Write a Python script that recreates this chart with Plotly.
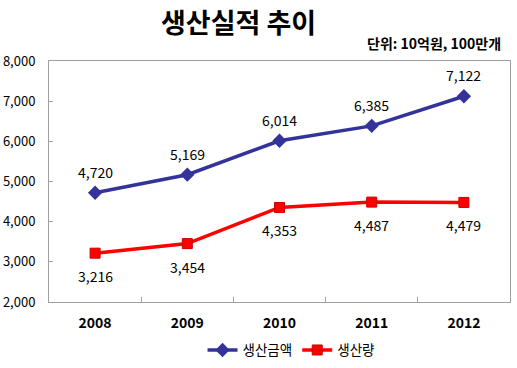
import plotly.graph_objects as go

years = ["2008", "2009", "2010", "2011", "2012"]
amount = [4720, 5169, 6014, 6385, 7122]
volume = [3216, 3454, 4353, 4487, 4479]
y_ticks = [2000, 3000, 4000, 5000, 6000, 7000, 8000]

font = "Malgun Gothic, Noto Sans CJK KR, sans-serif"

fig = go.Figure()
fig.add_trace(go.Scatter(
    x=years, y=amount, name="생산금액", mode="lines+markers",
    line=dict(color="#333399", width=3.5),
    marker=dict(symbol="diamond", size=11, color="#333399"),
))
fig.add_trace(go.Scatter(
    x=years, y=volume, name="생산량", mode="lines+markers",
    line=dict(color="#FF0000", width=3.5),
    marker=dict(symbol="square", size=10, color="#FF0000", line=dict(color="#CC0000", width=1)),
))

labels = []
for ys, shift in ((amount, 21), (volume, -23)):
    for i, yv in enumerate(ys):
        labels.append(dict(x=i, y=yv, xref="x", yref="y", text=f"{yv:,}", showarrow=False,
                           yshift=shift, font=dict(size=14, color="black")))

fig.update_layout(
    width=517, height=368,
    margin=dict(l=49, r=7, t=61, b=66, autoexpand=False),
    paper_bgcolor="white", plot_bgcolor="white",
    font=dict(family=font, color="black"),
    showlegend=True,
    legend=dict(orientation="h", x=0.525, xanchor="center", y=-0.2, yanchor="middle",
                font=dict(size=13.5), itemwidth=30, tracegroupgap=0),
    annotations=labels + [
        dict(text="<b>생산실적 추이</b>", x=0.41, y=1.165, xref="paper", yref="paper",
             yanchor="middle", showarrow=False, font=dict(size=27)),
        dict(text="<b>단위: 10억원, 100만개</b>", x=0.985, y=1.075, xref="paper", yref="paper",
             xanchor="right", yanchor="middle", showarrow=False, font=dict(size=14)),
    ],
)

fig.update_xaxes(
    type="category", range=[-0.5, 4.5],
    showline=True, linecolor="#A0A0A0", linewidth=1, mirror=True,
    showgrid=False, ticks="inside", tickson="boundaries", ticklen=5, tickcolor="#A0A0A0",
    tickfont=dict(size=14, family=font), ticklabelstandoff=8,
    tickvals=years, ticktext=[f"<b>{y}</b>" for y in years],
)
fig.update_yaxes(
    range=[2000, 8000], tickvals=y_ticks, tickformat=",",
    showline=True, linecolor="#A0A0A0", linewidth=1, mirror=True,
    showgrid=False, ticks="inside", ticklen=4, tickcolor="#A0A0A0",
    tickfont=dict(size=13), zeroline=False, ticklabelstandoff=10,
)

fig.write_html("out.html", config={"displayModeBar": False},
               post_script="document.body.style.margin='0';")
